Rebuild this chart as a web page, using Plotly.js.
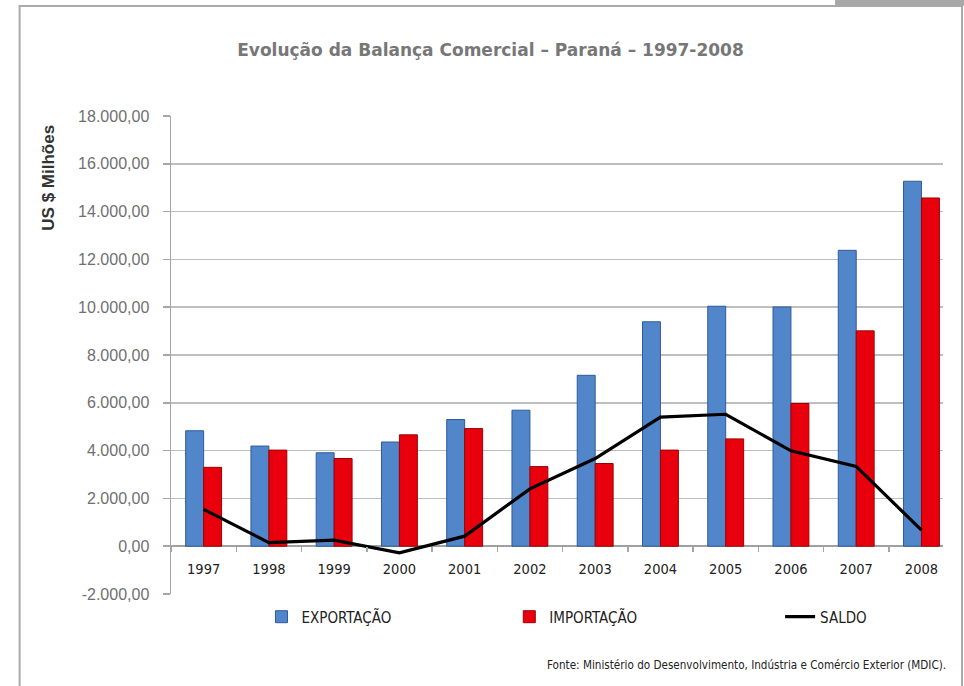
<!DOCTYPE html>
<html>
<head>
<meta charset="utf-8">
<script src="https://cdn.plot.ly/plotly-3.0.1.min.js"></script>
<style>
html,body{margin:0;padding:0;background:#fff;}
#chart{width:964px;height:686px;}
</style>
</head>
<body>
<div id="chart"></div>
<script>
// ---- data ----
const years = ['1997','1998','1999','2000','2001','2002','2003','2004','2005','2006','2007','2008'];
const exportacao = [4830, 4190, 3910, 4360, 5300, 5690, 7150, 9390, 10040, 10010, 12380, 15270];
const importacao = [3300, 4020, 3670, 4660, 4920, 3330, 3460, 4020, 4490, 5970, 9010, 14570];
const saldo = [1540, 150, 250, -280, 420, 2400, 3670, 5400, 5520, 3990, 3340, 670];
const yTickVals = [-2000, 0, 2000, 4000, 6000, 8000, 10000, 12000, 14000, 16000, 18000];
const yTickText = ['-2.000,00','0,00','2.000,00','4.000,00','6.000,00','8.000,00','10.000,00','12.000,00','14.000,00','16.000,00','18.000,00'];
const seriesNames = ['EXPORTAÇÃO', 'IMPORTAÇÃO', 'SALDO'];
const chartTitle = 'Evolução da Balança Comercial – Paraná – 1997-2008';
const yTitle = 'US $ Milhões';
const sourceNote = 'Fonte: Ministério do Desenvolvimento, Indústria e Comércio Exterior (MDIC).';

const narrow = 'DejaVu Sans Condensed, DejaVu Sans, sans-serif';

const traces = [
  {type:'bar', name:seriesNames[0], x:years, y:exportacao,
   marker:{color:'#5286CB', line:{color:'#2F5A9A', width:1}}, legend:'legend'},
  {type:'bar', name:seriesNames[1], x:years, y:importacao,
   marker:{color:'#E8000C', line:{color:'#9E0000', width:1}}, legend:'legend2'},
  {type:'scatter', mode:'lines', name:seriesNames[2], x:years, y:saldo,
   line:{color:'#000', width:3.2}, legend:'legend3'}
];

const legFont = {family:narrow, size:15, color:'#222'};
const legBase = {orientation:'h', yanchor:'middle', y:-0.048, xanchor:'left',
  font:legFont, bgcolor:'rgba(0,0,0,0)', borderwidth:0};

const layout = {
  width:964, height:686,
  margin:{l:171, r:21, t:116, b:92},
  paper_bgcolor:'#fff', plot_bgcolor:'#fff',
  showlegend:true,
  title:{text:chartTitle, x:0.5088, xanchor:'center', xref:'container',
    y:0.927, yanchor:'middle', yref:'container',
    font:{family:'DejaVu Sans, sans-serif', size:17, color:'#777', weight:'bold'}},
  barmode:'group', bargap:0.45, bargroupgap:0,
  xaxis:{type:'category', range:[-0.5, 11.33], anchor:'free', position:0.1,
    showline:false, showgrid:false, zeroline:false,
    ticks:'outside', tickson:'boundaries', ticklen:5, tickcolor:'#A6A6A6', tickwidth:1.5,
    ticklabelstandoff:12,
    tickfont:{family:narrow, size:14.5, color:'#222'}, fixedrange:true},
  yaxis:{range:[-2000, 18000], tickvals:yTickVals, ticktext:yTickText,
    showgrid:true, gridcolor:'#BEBEBE', gridwidth:1.6,
    showline:true, linecolor:'#A6A6A6', linewidth:1.5,
    zeroline:true, zerolinecolor:'#A0A0A0', zerolinewidth:1.6,
    ticks:'outside', ticklen:7, tickcolor:'#A6A6A6', tickwidth:1.5,
    ticklabelstandoff:10,
    tickfont:{family:'Liberation Sans, Arial, sans-serif', size:16, color:'#707070'}, fixedrange:true},
  legend:Object.assign({}, legBase, {x:0.1172}),
  legend2:Object.assign({}, legBase, {x:0.4382}),
  legend3:Object.assign({}, legBase, {x:0.789}),
  annotations:[
    {text:yTitle, xref:'paper', yref:'paper', x:-0.1586, y:0.870, textangle:-90,
     showarrow:false, xanchor:'center', yanchor:'middle',
     font:{family:'Liberation Sans, Arial, sans-serif', size:17, color:'#333', weight:'bold'}},
    {text:sourceNote, xref:'paper', yref:'paper', x:1.0065, y:-0.1485,
     showarrow:false, xanchor:'right', yanchor:'middle',
     font:{family:narrow, size:11.6, color:'#222'}}
  ],
  shapes:[
    {type:'rect', xref:'paper', yref:'paper', x0:-0.1961, x1:1.0246, y0:-0.35, y1:1.2301,
     line:{color:'#AAAAAA', width:2}, fillcolor:'rgba(0,0,0,0)', layer:'below'},
    {type:'rect', xref:'paper', yref:'paper', x0:0.8602, x1:1.05, y0:1.2301, y1:1.26,
     line:{width:0}, fillcolor:'#A8A8A8', layer:'below'}
  ]
};

Plotly.newPlot('chart', traces, layout, {displayModeBar:false, staticPlot:true});
</script>
</body>
</html>
